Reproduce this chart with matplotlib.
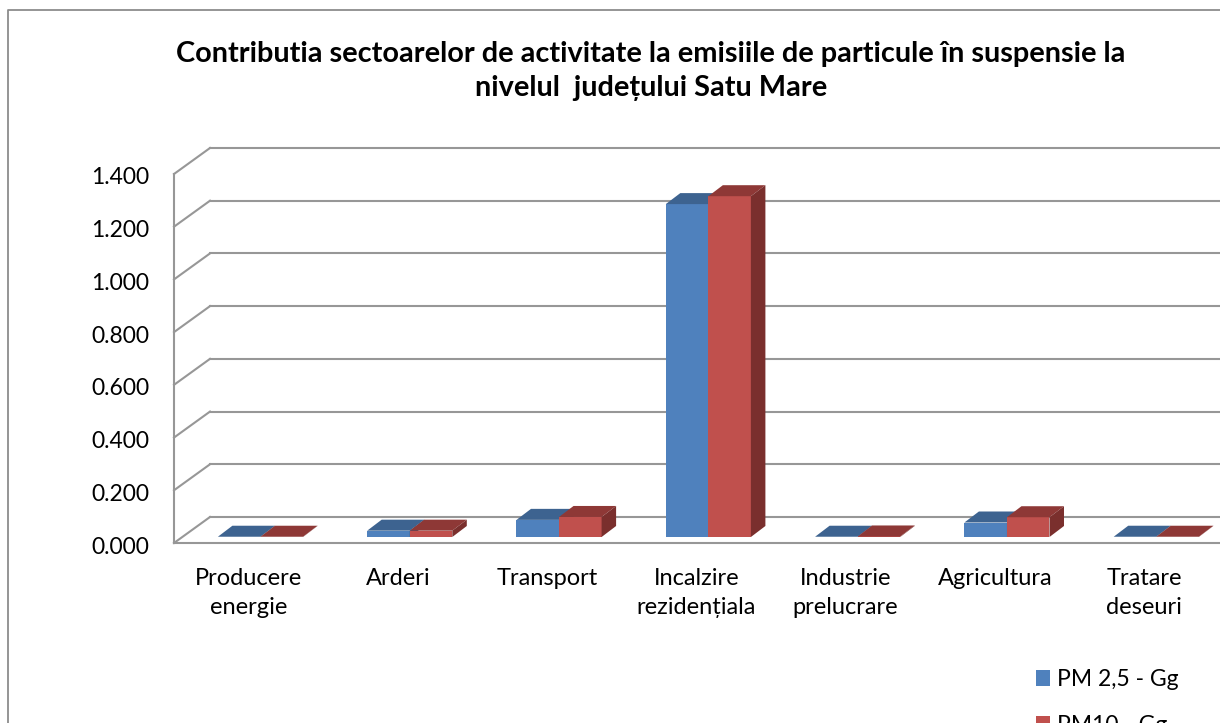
# 3D-look clustered column chart, drawn with oblique offsets in pixels
import matplotlib
matplotlib.use('Agg')
import matplotlib.pyplot as plt
from matplotlib.patches import Polygon, Patch
from matplotlib.lines import Line2D
from matplotlib.transforms import Affine2D

categories = ['Producere\nenergie', 'Arderi', 'Transport', 'Incalzire\nrezidențiala',
              'Industrie\nprelucrare', 'Agricultura', 'Tratare\ndeseuri']
pm25 = [0.001, 0.024, 0.065, 1.263, 0.001, 0.055, 0.001]
pm10 = [0.001, 0.024, 0.076, 1.293, 0.002, 0.075, 0.001]
y_ticks = [0.0, 0.2, 0.4, 0.6, 0.8, 1.0, 1.2, 1.4]
title = 'Contributia sectoarelor de activitate la emisiile de particule în suspensie la\nnivelul  județului Satu Mare'
series_names = ['PM 2,5 - Gg', 'PM10 - Gg']

W, H = 1220, 723
GRID = '#979797'
BLUE = ('#4F81BD', '#3D6390', '#35567D')
RED = ('#C0504D', '#8E3836', '#7A2F2D')

plt.rcParams['font.family'] = ['Lato', 'DejaVu Sans']

fig = plt.figure(figsize=(W / 100, H / 100), dpi=100)
# front plane of the floor and wall box
ax = fig.add_axes([174 / W, 1 - 543 / H, (W - 174) / W, 369 / H])
ax.set_xlim(-0.579, 6.427)
ax.set_ylim(0, 1.4)
for s in ax.spines.values():
    s.set_visible(False)
ax.patch.set_visible(False)

# outer chart frame
fig.add_artist(Line2D([8 / W, 8 / W, 1], [0, 1 - 10 / H, 1 - 10 / H], color='#8C8C8C', lw=1.3))

# walls and gridlines
for v in y_ticks:
    x0 = ax.get_xlim()[0]
    ax.plot([x0, x0 + 36 / 149.3], [v, v + 26 / 263.5], color=GRID, lw=1.5, zorder=1, clip_on=False)
    ax.plot([x0 + 36 / 149.3, 6.427], [v + 26 / 263.5] * 2, color=GRID, lw=1.5, zorder=1, clip_on=False)
ax.plot([-0.579, -0.579], [0, 1.4], color=GRID, lw=1.5, zorder=1, clip_on=False)
ax.plot([-0.579, 6.427], [0, 0], color=GRID, lw=1.5, zorder=1, clip_on=False)

# bars: front face, top and side as polygons, value measured from the raised base
bar_w = 0.285
base = 6 / 263.5
depth_x = 14.5 / 149.3
depth_y = 11 / 263.5


def draw_bar(left, value, colors, z):
    right = left + bar_w
    top = base + value
    ax.add_patch(Polygon([(left, base), (right, base), (right, top), (left, top)],
                         fc=colors[0], ec='none', zorder=z))
    ax.add_patch(Polygon([(left, top), (right, top), (right + depth_x, top + depth_y), (left + depth_x, top + depth_y)],
                         fc=colors[1], ec='none', zorder=z))
    ax.add_patch(Polygon([(right, base), (right + depth_x, base + depth_y), (right + depth_x, top + depth_y), (right, top)],
                         fc=colors[2], ec='none', zorder=z))


for i in range(len(categories)):
    draw_bar(i - bar_w, pm25[i], BLUE, 3)
    draw_bar(i, pm10[i], RED, 4)

# axis text
ax.set_yticks(y_ticks)
ax.set_yticklabels([f'{v:.3f}' for v in y_ticks], fontsize=16.5, color='black')
ax.tick_params(axis='y', length=0, pad=18)
for t in ax.get_yticklabels():
    t.set_transform(t.get_transform() + Affine2D().translate(0, -2))
ax.set_xticks([i - 12 / 149.3 for i in range(len(categories))])
ax.set_xticklabels(categories, fontsize=17, color='black', linespacing=1.5)
ax.tick_params(axis='x', length=0, pad=18)
for t in ax.get_xticklabels():
    t.set_verticalalignment('top')

fig.text(651 / W, 1 - 71 / H, title, ha='center', va='center', fontsize=20.8,
         fontweight='bold', linespacing=1.34)

handles = [Patch(fc=BLUE[0], ec='none'), Patch(fc=RED[0], ec='none')]
fig.legend(handles, series_names, loc='upper left', bbox_to_anchor=(1036 / W, 1 - 669 / H),
           frameon=False, fontsize=16.5, handlelength=0.62, handleheight=0.65,
           handletextpad=0.3, labelspacing=1.09, borderpad=0, borderaxespad=0)

fig.savefig('out.png', dpi=100)
